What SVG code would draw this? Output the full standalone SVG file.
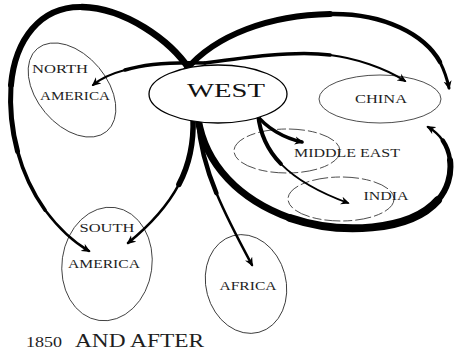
<svg xmlns="http://www.w3.org/2000/svg" width="454" height="354" viewBox="0 0 454 354">
  <style>
    .bg { fill: #ffffff; }
    .region { fill: none; stroke: #3a3a3a; stroke-width: 0.9; }
    .dash { stroke-dasharray: 16 3 9 3; }
    .west { fill: #ffffff; stroke: #000000; stroke-width: 1.3; }
    .lbl { font-family: "Liberation Serif", "Times New Roman", serif; font-size: 12px; fill: #1e1e1e; text-anchor: middle; }
    .big { font-size: 19px; fill: #111; }
    .title { font-family: "Liberation Serif", "Times New Roman", serif; fill: #1e1e1e; }
    .c { fill: none; stroke: #000000; stroke-linecap: round; stroke-linejoin: round; }
  </style>
  <defs>
    <marker id="ah" viewBox="0 0 10 10" refX="8" refY="5" markerWidth="9" markerHeight="9" markerUnits="userSpaceOnUse" orient="auto">
      <path d="M0,0.5 L10,5 L0,9.5 L3,5 z" fill="#000000"/>
    </marker>
  </defs>
  <rect class="bg" x="0" y="0" width="454" height="354"/>

  <g id="north-america">
    <ellipse class="region" cx="72" cy="90" rx="54" ry="35" transform="rotate(50 72 90)"/>
    <text class="lbl" x="60" y="73" font-size="11" textLength="56" lengthAdjust="spacingAndGlyphs">NORTH</text>
    <text class="lbl" x="75" y="100" font-size="11" textLength="70" lengthAdjust="spacingAndGlyphs">AMERICA</text>
  </g>
  <g id="china">
    <ellipse class="region" cx="380" cy="99" rx="61" ry="24"/>
    <text class="lbl" x="381" y="103" textLength="52" lengthAdjust="spacingAndGlyphs">CHINA</text>
  </g>
  <g id="middle-east">
    <ellipse class="region dash" cx="287" cy="151" rx="53" ry="22"/>
    <text class="lbl" x="347" y="157" textLength="106" lengthAdjust="spacingAndGlyphs">MIDDLE EAST</text>
  </g>
  <g id="india">
    <ellipse class="region dash" cx="341" cy="199" rx="53" ry="22"/>
    <text class="lbl" x="386" y="200" textLength="45" lengthAdjust="spacingAndGlyphs">INDIA</text>
  </g>
  <g id="south-america">
    <ellipse class="region" cx="107" cy="264" rx="45" ry="57" transform="rotate(8 107 264)"/>
    <text class="lbl" x="107" y="232" textLength="55" lengthAdjust="spacingAndGlyphs">SOUTH</text>
    <text class="lbl" x="104" y="268" textLength="72" lengthAdjust="spacingAndGlyphs">AMERICA</text>
  </g>
  <g id="africa">
    <ellipse class="region" cx="246" cy="284" rx="40" ry="50" transform="rotate(-15 246 284)"/>
    <text class="lbl" x="248" y="290" textLength="57" lengthAdjust="spacingAndGlyphs">AFRICA</text>
  </g>

  <g id="connectors">
    <!-- big left loop to South America -->
    <path class="c" stroke-width="6.5" d="M190,70 C170,40 125,8 82,7"/>
    <path class="c" stroke-width="6" d="M82,7 C40,6 15,40 11,85"/>
    <path class="c" stroke-width="5" d="M11,85 C9.5,107.5 11.75,130 17.5,151.25"/>
    <path class="c" stroke-width="3.6" d="M17.5,151.25 C23.25,172.5 32.5,192.5 45,210"/>
    <path class="c" stroke-width="2.5" marker-end="url(#ah)" d="M45,210 C60,230 75,243 89,251"/>
    <!-- big top loop to China -->
    <path class="c" stroke-width="6" d="M186,70 C215,35 270,15 330,14"/>
    <path class="c" stroke-width="4.5" d="M330,14 C385,13 425,35 440,62"/>
    <path class="c" stroke-width="3" marker-end="url(#ah)" d="M440,62 C444,70 447,78 449,88"/>
    <!-- thin arrow to North America -->
    <path class="c" stroke-width="3.5" d="M205,63 C175,62 145,64 125,70"/>
    <path class="c" stroke-width="2" marker-end="url(#ah)" d="M125,70 C110,74 100,79 93,85"/>
    <!-- thin arrow to China -->
    <path class="c" stroke-width="3.5" d="M205,63 C240,58 295,50 330,55"/>
    <path class="c" stroke-width="2" marker-end="url(#ah)" d="M330,55 C355,58 385,68 405,81"/>
    <!-- big bottom loop to China -->
    <path class="c" stroke-width="7" d="M198,118 C205,165 240,200 290,218"/>
    <path class="c" stroke-width="8" d="M290,218 C340,235 410,232 438,200"/>
    <path class="c" stroke-width="6" d="M438,200 C447,190 452,175 450,160"/>
    <path class="c" stroke-width="4.5" d="M450,160 C449,152.5 446.5,146 442.75,140.5"/>
    <path class="c" stroke-width="2.5" marker-end="url(#ah)" d="M442.75,140.5 C439,135 434,130.5 428,127"/>
    <!-- South America from West -->
    <path class="c" stroke-width="5.5" d="M193,118 C194,143.5 189.5,164.25 178.9,184.4"/>
    <path class="c" stroke-width="2.5" marker-end="url(#ah)" d="M178.9,184.4 C168.25,204.5 151.5,224 128,243"/>
    <!-- Africa -->
    <path class="c" stroke-width="4.5" d="M198,120 C200,147.5 206.75,170 216.4,193.1"/>
    <path class="c" stroke-width="2.5" marker-end="url(#ah)" d="M216.4,193.1 C226,216.25 238.5,240 252,265"/>
    <!-- Middle East -->
    <path class="c" stroke-width="3.5" marker-end="url(#ah)" d="M256,114 C266,128 284,138 302,142"/>
    <!-- India -->
    <path class="c" stroke-width="4" d="M258,114 C260,134 266.75,149.5 280.9,163.9"/>
    <path class="c" stroke-width="1.8" marker-end="url(#ah)" d="M280.9,163.9 C295,178.25 316.5,191.5 348,203"/>
  </g>

  <g id="west">
    <ellipse class="west" cx="218" cy="94" rx="69" ry="29"/>
    <text class="lbl big" x="226" y="97" textLength="78" lengthAdjust="spacingAndGlyphs">WEST</text>
  </g>

  <g id="title">
    <text class="title" x="26" y="347" font-size="14" textLength="36" lengthAdjust="spacingAndGlyphs">1850</text>
    <text class="title" x="75" y="347" font-size="18" textLength="129" lengthAdjust="spacingAndGlyphs">AND AFTER</text>
  </g>
</svg>
